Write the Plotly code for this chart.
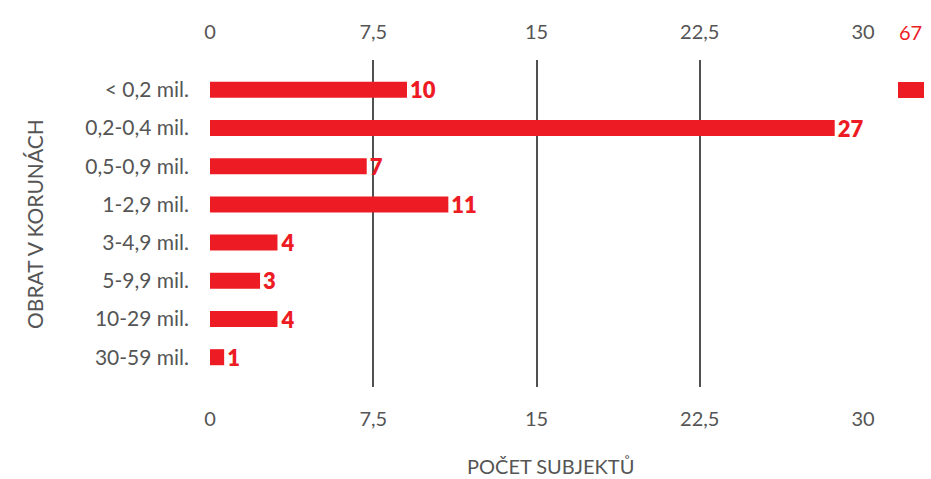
import plotly.graph_objects as go

categories = ["< 0,2 mil.", "0,2-0,4 mil.", "0,5-0,9 mil.", "1-2,9 mil.",
              "3-4,9 mil.", "5-9,9 mil.", "10-29 mil.", "30-59 mil."]
bar_lengths = [9.05, 28.7, 7.2, 10.95, 3.1, 2.3, 3.1, 0.65]
value_labels = ["10", "27", "7", "11", "4", "3", "4", "1"]
tick_vals = [0, 7.5, 15, 22.5, 30]
tick_text = ["0", "7,5", "15", "22,5", "30"]
total_label = "67"

RED = "#ED1C24"
GRAY = "#555555"
FONT = "Lato"

W, H = 931, 479
ml, mr, mt, mb = 210, 68, 60, 92
pw, ph = W - ml - mr, H - mt - mb

def px_to_paper(x, y):
    return (x - ml) / pw, (H - mb - y) / ph

fig = go.Figure()
fig.add_trace(go.Bar(
    y=categories, x=bar_lengths, orientation="h",
    marker=dict(color=RED, line=dict(width=0)),
    width=0.42,
    text=value_labels, textposition="outside", constraintext="none",
    textfont=dict(color=RED, size=22, family=FONT, weight=800),
    cliponaxis=False, showlegend=False,
))
# invisible trace for top axis
fig.add_trace(go.Scatter(x=[0, 30], y=[categories[0], categories[0]], xaxis="x2",
                         mode="markers", marker=dict(opacity=0), showlegend=False,
                         hoverinfo="skip"))

axis_common = dict(
    range=[0, 30], tickvals=tick_vals, ticktext=tick_text,
    showgrid=True, gridcolor="#505050", gridwidth=1.5,
    zeroline=False, showline=False, automargin=False,
    tickfont=dict(color=GRAY, size=20, family=FONT),
    ticks="",
)

def ann(text, x, y, size=19, color=GRAY, angle=0):
    px, py = px_to_paper(x, y)
    return dict(text=text, x=px, y=py, xref="paper", yref="paper",
                xanchor="center", yanchor="middle", showarrow=False,
                textangle=angle, font=dict(color=color, size=size, family=FONT))

r0 = px_to_paper(898, 98)
r1 = px_to_paper(924, 82)

fig.update_layout(
    width=W, height=H,
    margin=dict(l=ml, r=mr, t=mt, b=mb),
    plot_bgcolor="white", paper_bgcolor="white",
    xaxis=dict(**axis_common, side="bottom", ticklabelstandoff=18),
    xaxis2=dict(**axis_common, side="top", overlaying="x", matches="x",
                ticklabelstandoff=16),
    yaxis=dict(categoryorder="array", categoryarray=categories,
               range=[7.78, -0.78], showgrid=False, zeroline=False,
               automargin=False,
               tickfont=dict(color=GRAY, size=21, family=FONT),
               ticks="", ticklabelstandoff=20),
    annotations=[
        ann("POČET SUBJEKTŮ", 550, 466, size=20),
        ann("OBRAT V KORUNÁCH", 35, 224, size=21, angle=-90),
        ann(total_label, 910, 32, size=20, color=RED),
    ],
    shapes=[dict(type="rect", xref="paper", yref="paper",
                 x0=r0[0], y0=r0[1], x1=r1[0], y1=r1[1],
                 fillcolor=RED, line=dict(width=0))],
)

fig.write_html("out.html", config={"displayModeBar": False})

# remove the default page margin so the figure sits at the window's top-left
with open("out.html", "r", encoding="utf-8") as f:
    html = f.read()
html = html.replace("<head>", "<head><style>html,body{margin:0;padding:0;overflow:hidden;}</style>", 1)
with open("out.html", "w", encoding="utf-8") as f:
    f.write(html)
